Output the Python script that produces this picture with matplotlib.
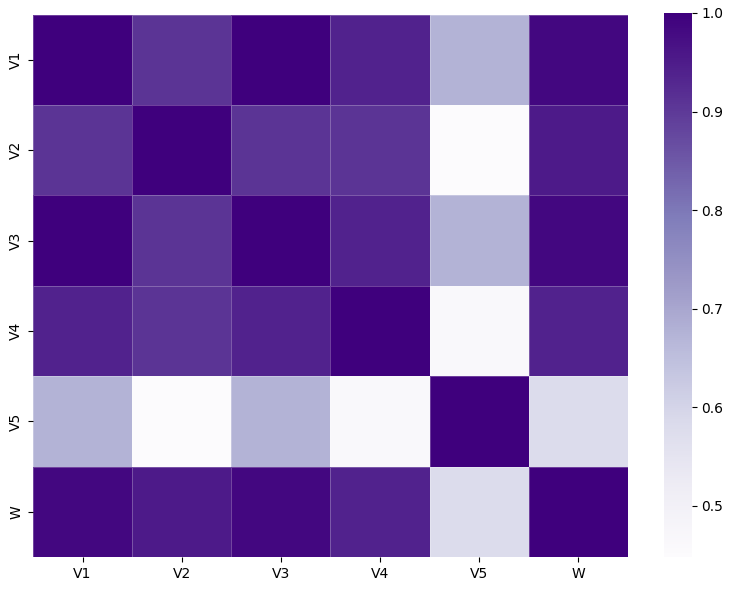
import matplotlib

matplotlib.use("Agg")
import matplotlib.pyplot as plt
import seaborn as sns
import numpy as np
import pandas as pd

labels = ["V1", "V2", "V3", "V4", "V5", "W"]

# correlation matrix rows
row_v1 = [1.000, 0.909, 1.000, 0.938, 0.676, 0.987]
row_v2 = [0.909, 1.000, 0.909, 0.909, 0.448, 0.954]
row_v3 = [1.000, 0.909, 1.000, 0.938, 0.676, 0.987]
row_v4 = [0.938, 0.909, 0.938, 1.000, 0.464, 0.938]
row_v5 = [0.676, 0.448, 0.676, 0.464, 1.000, 0.579]
row_w = [0.987, 0.954, 0.987, 0.938, 0.579, 1.000]

corr = pd.DataFrame(
    np.array([row_v1, row_v2, row_v3, row_v4, row_v5, row_w]),
    index=labels,
    columns=labels,
)

fig = plt.figure(figsize=(7.32, 5.9), dpi=100)
ax = fig.add_axes([0.045, 0.056, 0.813, 0.919])
cax = fig.add_axes([0.907, 0.056, 0.038, 0.922])
# faint grid between cells
sns.heatmap(corr, cmap="Purples", linewidths=0.5, linecolor=(1, 1, 1, 0.25),
            ax=ax, cbar_ax=cax)

plt.savefig("out.png", dpi=100, facecolor="white")
plt.close()
